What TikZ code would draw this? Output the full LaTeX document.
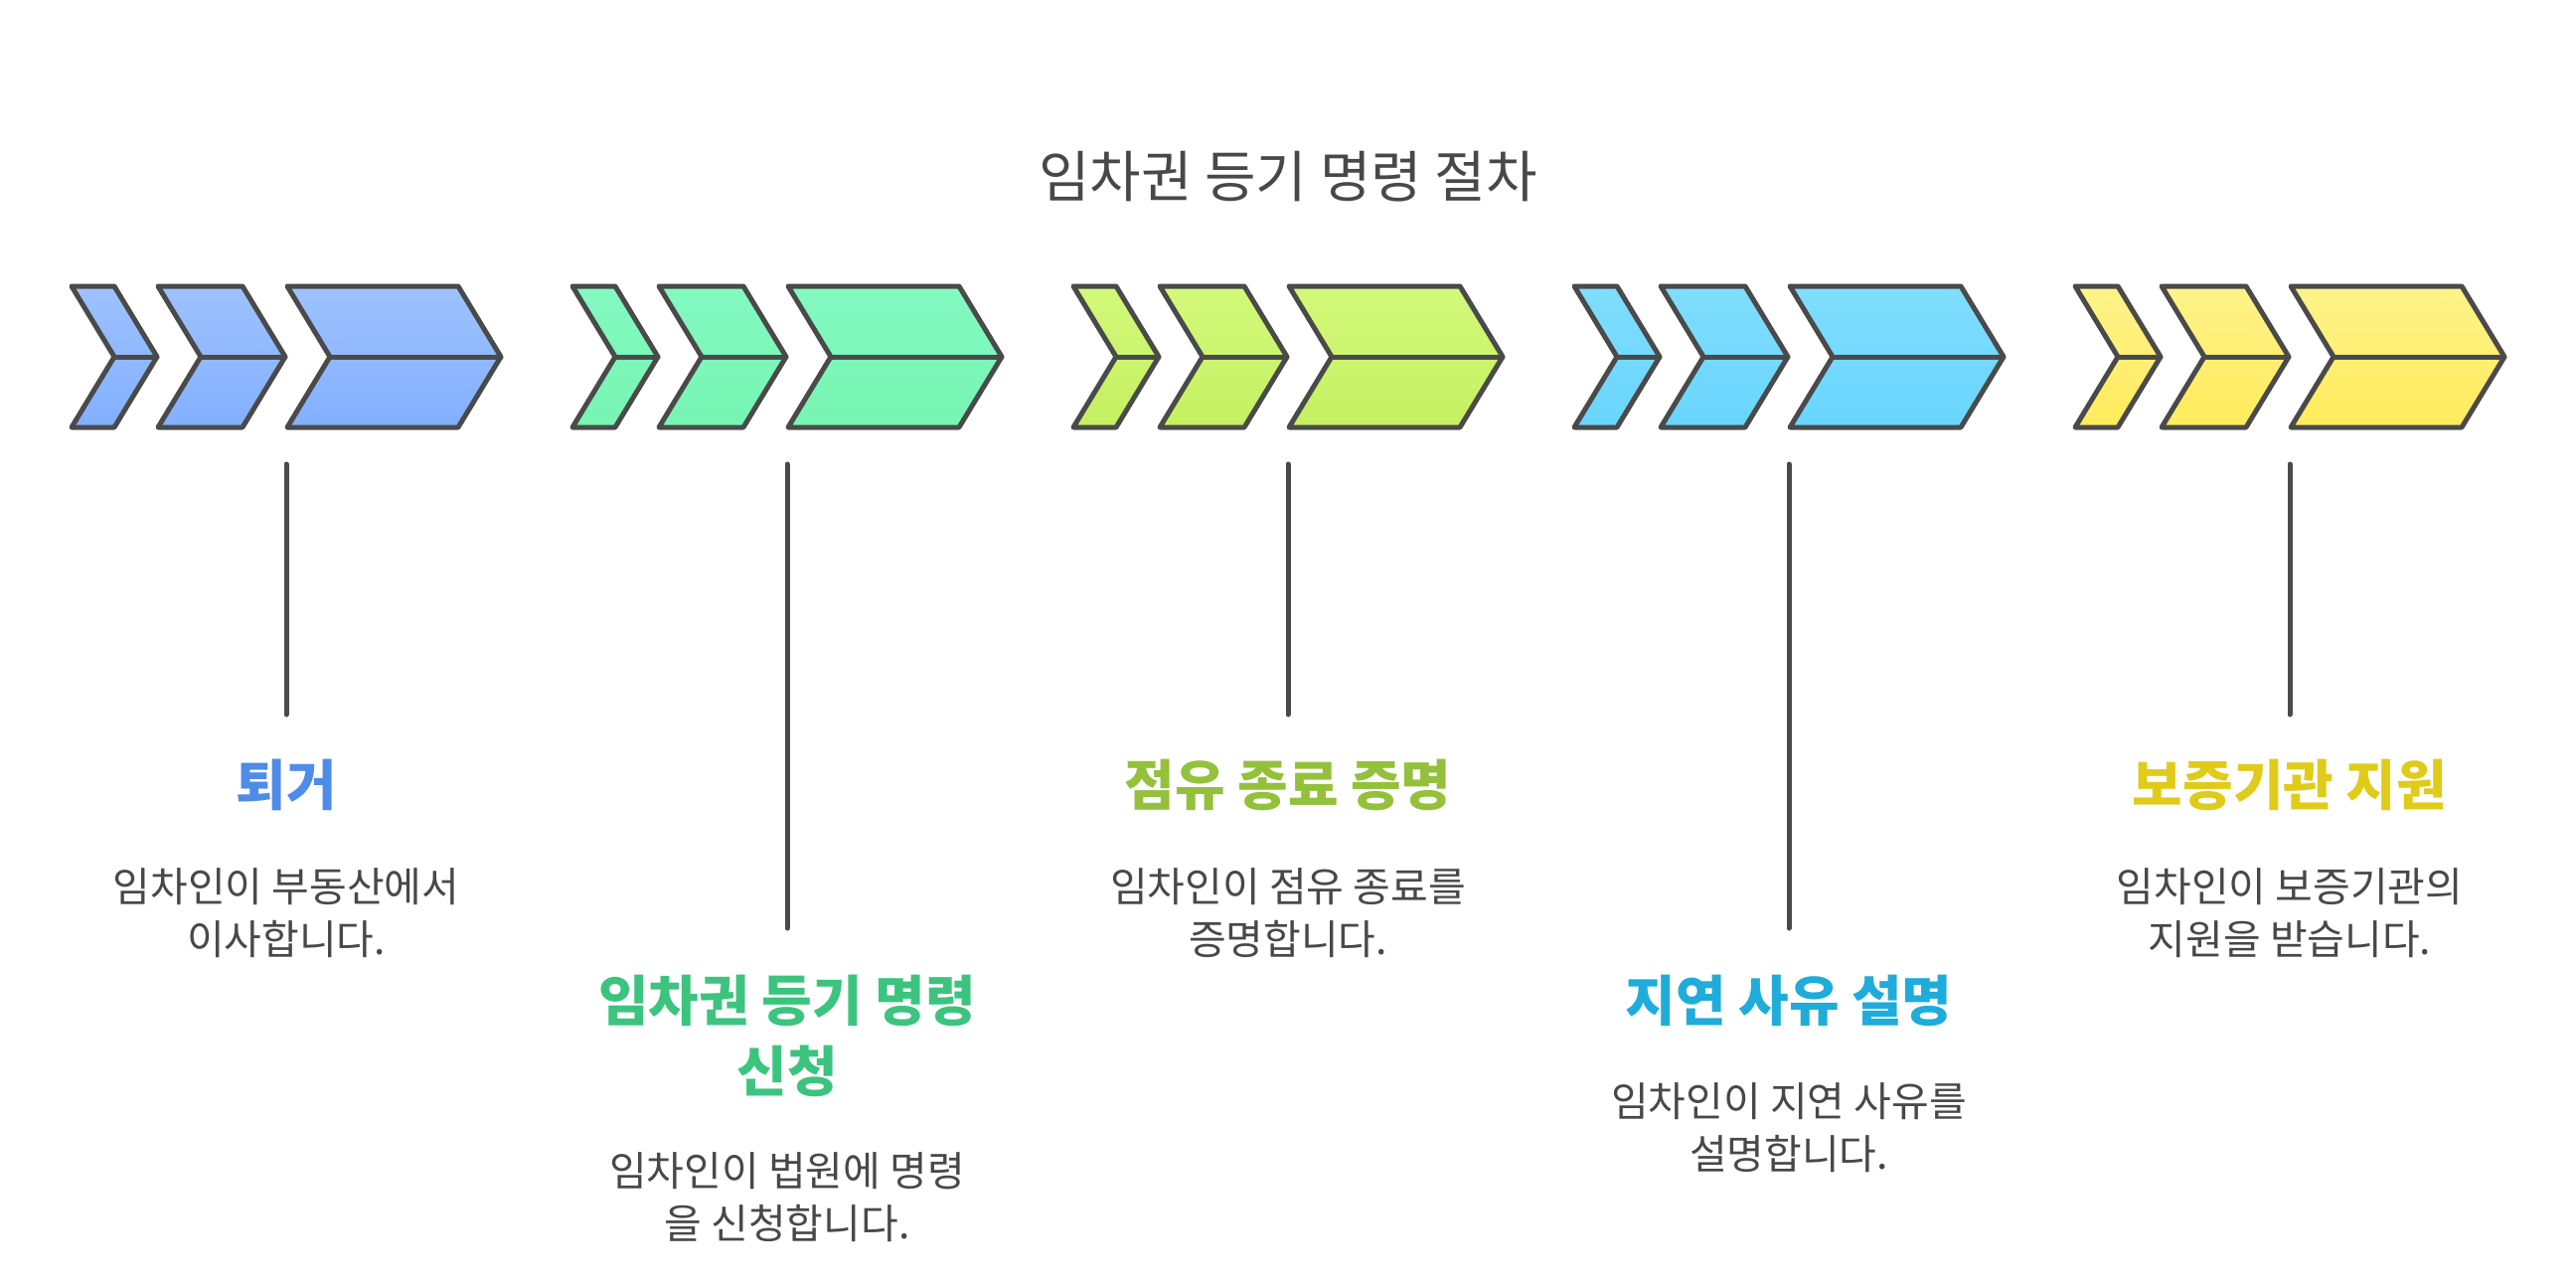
\documentclass[tikz,border=0pt]{standalone}
\usepackage{fontspec}
\newfontfamily\kr{Noto Sans CJK KR}
\definecolor{strokeC}{HTML}{4A4A4A}
\definecolor{textC}{HTML}{484848}
\definecolor{blueT}{HTML}{9EC2FF}
\definecolor{blueB}{HTML}{82AFFF}
\definecolor{blueL}{HTML}{4F8BE8}
\definecolor{greenT}{HTML}{82F9C0}
\definecolor{greenB}{HTML}{77F5B3}
\definecolor{greenL}{HTML}{3CC47F}
\definecolor{limeT}{HTML}{D2F97A}
\definecolor{limeB}{HTML}{C5F060}
\definecolor{limeL}{HTML}{93C13B}
\definecolor{cyanT}{HTML}{80DDFF}
\definecolor{cyanB}{HTML}{69D5FC}
\definecolor{cyanL}{HTML}{1FACDB}
\definecolor{yellowT}{HTML}{FFF38A}
\definecolor{yellowB}{HTML}{FFEB5C}
\definecolor{yellowL}{HTML}{E0CB1A}
\tikzset{
  chev/.style={draw=strokeC, line width=5pt, line join=round},
  midline/.style={draw=strokeC, line width=5pt, line cap=round},
  conn/.style={draw=strokeC, line width=5pt, line cap=round},
  titletext/.style={font=\kr\fontsize{56}{67}\selectfont, text=textC, inner sep=0pt},
  labeltext/.style={font=\kr\bfseries\fontsize{55}{71}\selectfont, align=center, inner sep=0pt},
  desctext/.style={font=\kr\fontsize{41}{53}\selectfont, text=textC, align=center, inner sep=0pt},
}
\newcommand{\chevshape}[4]{%
  \path[chev, top color=#3, bottom color=#4] (#1,288) -- ++(#2,0) -- ++(43,71) -- ++(-43,71) -- ++(-#2,0) -- ++(43,-71) -- cycle;
  \draw[midline] (#1+43,359) -- ++(#2,0);
}
\newcommand{\chevgroup}[3]{%
  \chevshape{#1+72}{43}{#2}{#3}
  \chevshape{#1+159}{85}{#2}{#3}
  \chevshape{#1+289}{172}{#2}{#3}
}
\begin{document}
\begin{tikzpicture}[x=1pt,y=-1pt]
\useasboundingbox (0,0) rectangle (2592,1293);
\fill[white] (0,0) rectangle (2592,1293);

\node[titletext] (title) at (1296,178) {임차권 등기 명령 절차};

\chevgroup{0}{blueT}{blueB}
\chevgroup{504}{greenT}{greenB}
\chevgroup{1008}{limeT}{limeB}
\chevgroup{1512}{cyanT}{cyanB}
\chevgroup{2016}{yellowT}{yellowB}

% group 1
\coordinate (c1a) at (288,467);
\coordinate (c1b) at (288,719);
\draw[conn] (c1a) -- (c1b);
\node[labeltext, text=blueL] (lab1) at (288,790) {퇴거};
\node[desctext] (desc1) at (288,918.5) {임차인이 부동산에서\\이사합니다.};

% group 2
\coordinate (c2a) at (792,467);
\coordinate (c2b) at (792,934);
\draw[conn] (c2a) -- (c2b);
\node[labeltext, text=greenL] (lab2) at (792,1042.5) {임차권 등기 명령\\신청};
\node[desctext] (desc2) at (792,1205) {임차인이 법원에 명령\\을 신청합니다.};

% group 3
\coordinate (c3a) at (1296,467);
\coordinate (c3b) at (1296,719);
\draw[conn] (c3a) -- (c3b);
\node[labeltext, text=limeL] (lab3) at (1296,790) {점유 종료 증명};
\node[desctext] (desc3) at (1296,918.5) {임차인이 점유 종료를\\증명합니다.};

% group 4
\coordinate (c4a) at (1800,467);
\coordinate (c4b) at (1800,934);
\draw[conn] (c4a) -- (c4b);
\node[labeltext, text=cyanL] (lab4) at (1800,1007) {지연 사유 설명};
\node[desctext] (desc4) at (1800,1135) {임차인이 지연 사유를\\설명합니다.};

% group 5
\coordinate (c5a) at (2304,467);
\coordinate (c5b) at (2304,719);
\draw[conn] (c5a) -- (c5b);
\node[labeltext, text=yellowL] (lab5) at (2304,790) {보증기관 지원};
\node[desctext] (desc5) at (2304,918.5) {임차인이 보증기관의\\지원을 받습니다.};
\end{tikzpicture}
\end{document}
